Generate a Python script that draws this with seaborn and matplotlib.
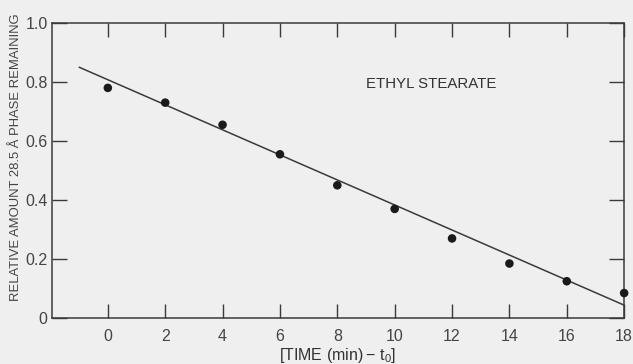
import matplotlib
matplotlib.use("Agg")
import matplotlib.pyplot as plt
import seaborn as sns
import pandas as pd

# Measured fraction of the 28.5 Å phase remaining vs. time
time_min = [0, 2, 4, 6, 8, 10, 12, 14, 16, 18]
fraction = [0.78, 0.73, 0.655, 0.555, 0.45, 0.37, 0.27, 0.185, 0.125, 0.085]

# Fitted straight line (end points)
fit_x = [-1, 18]
fit_y = [0.85, 0.044]

x_ticks = [0, 2, 4, 6, 8, 10, 12, 14, 16, 18]
y_ticks = [0, 0.2, 0.4, 0.6, 0.8, 1.0]
y_tick_labels = ["0", "0.2", "0.4", "0.6", "0.8", "1.0"]

sns.set_style("ticks")
plt.rcParams["font.family"] = ["Liberation Sans", "DejaVu Sans"]
plt.rcParams["mathtext.fontset"] = "custom"
plt.rcParams["mathtext.rm"] = "Liberation Sans"
plt.rcParams["mathtext.it"] = "Liberation Sans"

ink = "#3a3a3a"
bg = "#efefef"

fig = plt.figure(figsize=(6.33, 3.64), dpi=100, facecolor=bg)
ax = fig.add_axes([0.082, 0.126, 0.904, 0.811])
ax.set_facecolor(bg)

pts = pd.DataFrame({"t": time_min, "f": fraction})
fit = pd.DataFrame({"t": fit_x, "f": fit_y})

sns.lineplot(data=fit, x="t", y="f", ax=ax, color=ink, linewidth=1.1)
sns.scatterplot(data=pts, x="t", y="f", ax=ax, color="#1a1a1a", s=38,
                edgecolor="none", zorder=3, clip_on=False)

ax.set_xlim(-1.95, 18)
ax.set_ylim(0, 1.0)
ax.set_xticks(x_ticks)
ax.set_xticklabels([str(v) for v in x_ticks])
ax.set_yticks(y_ticks)
ax.set_yticklabels(y_tick_labels)

for s in ax.spines.values():
    s.set_visible(True)
    s.set_color(ink)
    s.set_linewidth(1.1)

ax.tick_params(axis="x", direction="in", length=10, width=1.0, color=ink,
               top=True, bottom=True, labelsize=11.5, labelcolor="#444444", pad=8)
ax.tick_params(axis="y", direction="in", length=11, width=1.0, color=ink,
               left=True, right=True, labelsize=11.5, labelcolor="#444444", pad=3)

ax.set_xlabel(r"$\left[\mathrm{TIME\ (min)}-\,\mathrm{t}_0\right]$",
              fontsize=11.5, color="#333333", labelpad=1)
ax.set_ylabel("RELATIVE AMOUNT 28.5 Å PHASE REMAINING",
              fontsize=9.4, color="#444444")
ax.yaxis.set_label_coords(-0.052, 0.545)

ax.text(9.0, 0.793, "ETHYL STEARATE",
        fontsize=10.8, color="#333333", ha="left", va="center")

fig.savefig("out.png", dpi=100, facecolor=bg)
